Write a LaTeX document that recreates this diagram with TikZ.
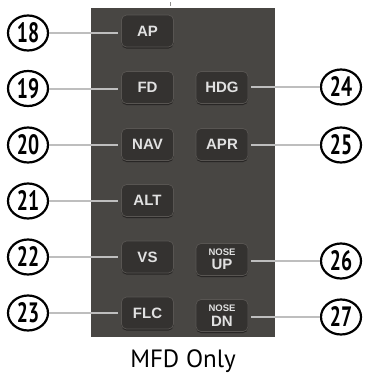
\documentclass[tikz,border=0pt]{standalone}
\usepackage{fontspec}
\setmainfont{Liberation Sans}
\newfontfamily\numfont{PT Sans}
\newfontfamily\capfont{PT Sans}
\definecolor{panel}{RGB}{72,70,67}
\definecolor{btn}{RGB}{52,50,48}
\definecolor{btnedge}{RGB}{88,85,82}
\definecolor{btnshadow}{RGB}{40,38,37}
\definecolor{lead}{RGB}{190,190,190}
\definecolor{btntext}{RGB}{225,225,225}
\tikzset{
  x=1pt, y=-1pt,
  button/.style={rounded corners=5pt, fill=btn, draw=btnedge, line width=0.7pt,
    minimum width=52pt, minimum height=32pt, inner sep=0pt,
    text=btntext, font=\bfseries\fontsize{15}{15}\selectfont,
    drop shadow={shadow xshift=0pt, shadow yshift=-1.5pt, fill=btnshadow, opacity=1}},
  callout/.style={ellipse, draw=black, line width=2.2pt, fill=white,
    minimum width=40pt, minimum height=35pt, inner sep=0pt,
    font=\numfont\bfseries\fontsize{28}{28}\selectfont},
  leader/.style={draw=lead, line width=2pt},
}
\usetikzlibrary{shapes.geometric,shadows}
\newcommand{\cnum}[1]{\raisebox{0.5pt}{\scalebox{0.7}[1]{#1}}}
\newcommand{\nose}[1]{\shortstack{\fontsize{9.5}{9.5}\selectfont NOSE\\[1pt]\fontsize{15}{15}\selectfont #1}}
\begin{document}
\begin{tikzpicture}
\useasboundingbox (0,0) rectangle (367,375);
\fill[panel] (91,7.5) rectangle (275,337);
\fill[lead!60!panel] (169.5,2) rectangle (170.8,5.5);

% buttons
\node[button] (ap)  at (147.5,31)  {AP};
\node[button] (fd)  at (147.5,87.5)  {FD};
\node[button] (nav) at (147.5,144.5) {NAV};
\node[button] (alt) at (147.5,200.5) {ALT};
\node[button] (vs)  at (147.5,257) {VS};
\node[button] (flc) at (147.5,313) {FLC};
\node[button] (hdg) at (222,87.5)  {HDG};
\node[button] (apr) at (222,144.5) {APR};
\node[button] (nup) at (222,259.5) {\nose{UP}};
\node[button] (ndn) at (222,315.5) {\nose{DN}};

% callouts
\node[callout] (c18) at (28,33)  {\cnum{18}};
\node[callout] (c19) at (28,88.5)  {\cnum{19}};
\node[callout] (c20) at (28,145) {\cnum{20}};
\node[callout] (c21) at (28,201) {\cnum{21}};
\node[callout] (c22) at (28,257) {\cnum{22}};
\node[callout] (c23) at (28,313) {\cnum{23}};
\node[callout] (c24) at (341,87)  {\cnum{24}};
\node[callout] (c25) at (341,145) {\cnum{25}};
\node[callout] (c26) at (341,261) {\cnum{26}};
\node[callout] (c27) at (341,317) {\cnum{27}};

% leaders
\foreach \c/\b in {c18/ap,c19/fd,c20/nav,c21/alt,c22/vs,c23/flc}{
  \draw[leader] (\c.east) -- ([xshift=-3pt]\b.west |- \c.east);
}
\foreach \c/\b in {c24/hdg,c25/apr,c26/nup,c27/ndn}{
  \draw[leader] (\c.west) -- ([xshift=3pt]\b.east |- \c.west);
}

\node[font=\capfont\fontsize{25}{25}\selectfont, anchor=base] (mfd) at (183,367) {MFD Only};
\end{tikzpicture}
\end{document}
